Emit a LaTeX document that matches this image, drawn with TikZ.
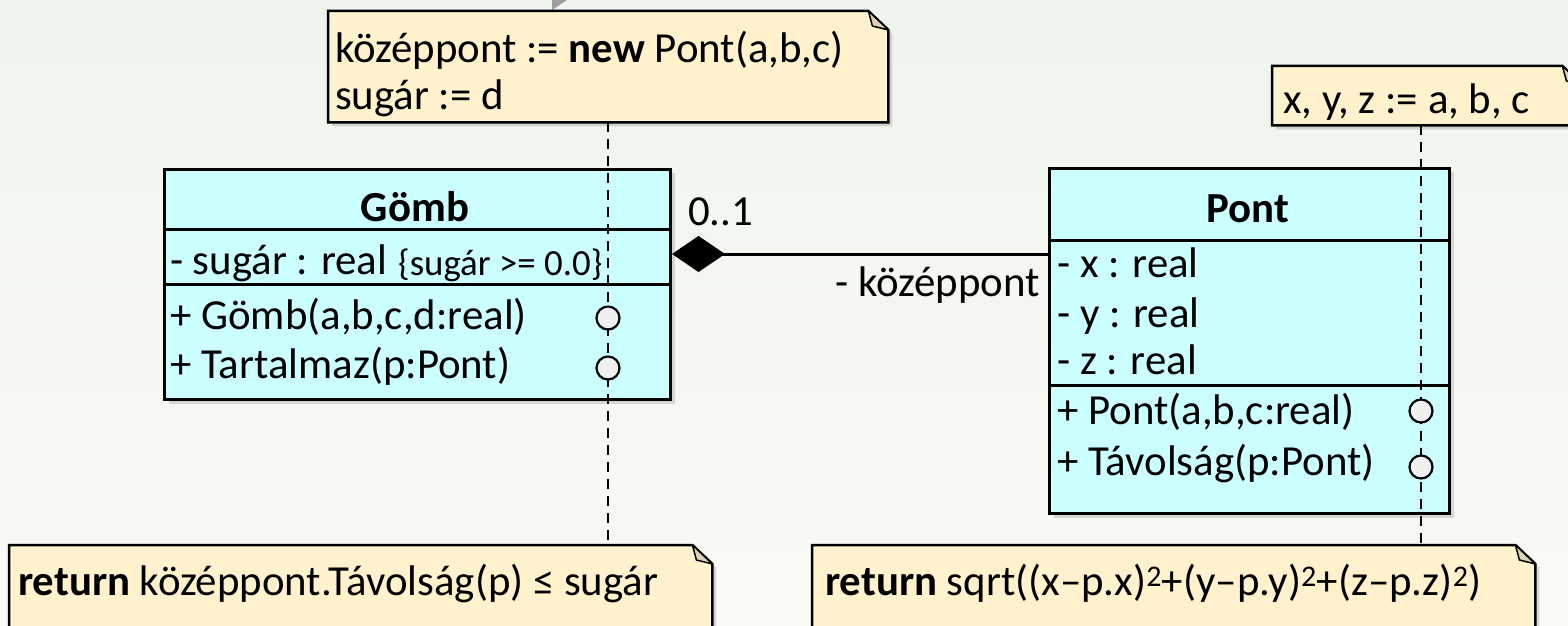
\documentclass[tikz,border=0pt]{standalone}
\usepackage{fontspec}
\setmainfont{Carlito}
\usetikzlibrary{shadows,arrows.meta}
\definecolor{bgtop}{RGB}{238,245,236}
\definecolor{bgbot}{RGB}{250,250,246}
\definecolor{classfill}{RGB}{204,255,255}
\definecolor{notefill}{RGB}{255,242,204}
\definecolor{foldfill}{RGB}{222,210,182}
\definecolor{opfill}{RGB}{240,240,240}
\newcommand\mynote[1]{%
  \path[notepath] (#1.north west) -- ([xshift=-20bp]#1.north east) -- ([yshift=-19bp]#1.north east) -- (#1.south east) -- (#1.south west) -- cycle;
  \path[foldpath] ([xshift=-20bp]#1.north east) -- ([yshift=-19bp]#1.north east) -- ([xshift=-16bp,yshift=-15bp]#1.north east) -- cycle;
}
\begin{document}
\begin{tikzpicture}[x=1bp,y=-1bp,
  shadowed/.style={drop shadow={shadow xshift=4bp,shadow yshift=-4bp,opacity=0.28}},
  classbox/.style={draw,line width=3bp,fill=classfill,shadowed,inner sep=0,anchor=north west},
  notebox/.style={draw=none,fill=none,inner sep=0,anchor=north west},
  notepath/.style={draw,line width=2.5bp,fill=notefill,shadowed,line join=miter},
  foldpath/.style={draw,line width=1.5bp,fill=foldfill,line join=round},
  sep/.style={line width=3bp},
  txt/.style={inner sep=0,anchor=mid west,font=\fontsize{43}{50}\selectfont},
  smalltxt/.style={inner sep=0,anchor=mid west,font=\fontsize{37}{44}\selectfont},
  title/.style={inner sep=0,anchor=mid,font=\fontsize{43}{50}\selectfont\bfseries},
  op/.style={circle,draw,line width=2.2bp,fill=opfill,minimum size=23bp,inner sep=0},
  link/.style={dash pattern=on 10bp off 7bp,line width=2bp},
  assoc/.style={line width=3bp,-{Diamond[length=53bp,width=36bp]}}
]
\useasboundingbox (0,0) rectangle (1568,626);
\clip (0,0) rectangle (1568,626);
\shade[top color=bgtop,bottom color=bgbot] (0,0) rectangle (1568,626);
\fill[black!38] (552,0) -- (567,0) -- (552,10) -- cycle;

% notes
\node[notebox,minimum width=560bp,minimum height=111bp] (n1) at (328,11) {};
\mynote{n1}
\node[notebox,minimum width=310bp,minimum height=59bp] (n2) at (1272,66) {};
\mynote{n2}
\node[notebox,minimum width=703bp,minimum height=100bp] (n3) at (9,545) {};
\mynote{n3}
\node[notebox,minimum width=723bp,minimum height=100bp] (n4) at (812,545) {};
\mynote{n4}

\node[txt] (n1a) at (335,60) {középpont := \textbf{new} Pont(a,b,c)};
\node[txt] (n1b) at (335,107) {sugár := d};
\node[txt] (n2a) at (1283,111) {x, y, z := a, b, c};
\node[txt] (n3a) at (18,593) {\textbf{return} középpont.Távolság(p) ≤ sugár};
\node[txt] (n4a) at (825,593) {\textbf{return} sqrt((x–p.x)\textsuperscript{2}+(y–p.y)\textsuperscript{2}+(z–p.z)\textsuperscript{2})};

% classes
\node[classbox,minimum width=506bp,minimum height=230bp] (gomb) at (163,168) {};
\draw[sep] (163,229) -- (669,229);
\draw[sep] (163,284) -- (669,284);
\node[classbox,minimum width=400bp,minimum height=345bp] (pont) at (1048,167) {};
\draw[sep] (1048,240) -- (1448,240);
\draw[sep] (1048,385) -- (1448,385);

% dashed links
\draw[link] (608,0 |- n1.south) -- (608,0 |- n3.north);
\draw[link] (1421,0 |- n2.south) -- (1421,0 |- n4.north);

\node[title] (gt) at (415,219) {Gömb};
\node[txt] (ga) at (170,272) {- sugár : real};
\node[smalltxt] (gc) at (398,273) {\{sugár >= 0.0\}};
\node[txt] (go1) at (170,327) {+ Gömb(a,b,c,d:real)};
\node[txt] (go2) at (170,376) {+ Tartalmaz(p:Pont)};
\node[op] (gc1) at (608,318) {};
\node[op] (gc2) at (608,368) {};

\node[title] (pt) at (1248,220) {Pont};
\node[txt] (pa1) at (1057,275) {- x : real};
\node[txt] (pa2) at (1057,325) {- y : real};
\node[txt] (pa3) at (1057,372) {- z : real};
\node[txt] (po1) at (1057,422) {+ Pont(a,b,c:real)};
\node[txt] (po2) at (1057,473) {+ Távolság(p:Pont)};
\node[op] (pc1) at (1421,411) {};
\node[op] (pc2) at (1421,467) {};

% association
\draw[assoc] (pont.west |- 0,254) -- (gomb.east |- 0,254);
\node[txt] (mult) at (688,223) {0..1};
\node[txt,anchor=mid east] (role) at (1040,294) {- középpont};
\end{tikzpicture}
\end{document}
